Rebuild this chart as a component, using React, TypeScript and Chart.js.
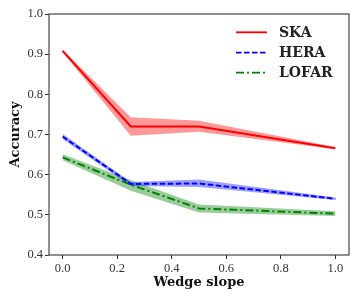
import React, { useEffect, useRef } from "react";
import { Chart, registerables } from "chart.js";

Chart.register(...registerables);

const xVals = [0, 0.25, 0.5, 1.0];
const xTicks = [0, 0.2, 0.4, 0.6, 0.8, 1.0];
const yTicks = [0.4, 0.5, 0.6, 0.7, 0.8, 0.9, 1.0];

const skaMean = [0.908, 0.72, 0.72, 0.666];
const skaLow = [0.905, 0.697, 0.707, 0.663];
const skaHigh = [0.911, 0.743, 0.734, 0.669];

const heraMean = [0.695, 0.577, 0.578, 0.54];
const heraLow = [0.689, 0.572, 0.569, 0.537];
const heraHigh = [0.701, 0.582, 0.588, 0.543];

const lofarMean = [0.643, 0.575, 0.516, 0.503];
const lofarLow = [0.636, 0.56, 0.506, 0.497];
const lofarHigh = [0.651, 0.586, 0.526, 0.509];

const seriesNames = ["SKA", "HERA", "LOFAR"];
const xTitle = "Wedge slope";
const yTitle = "Accuracy";

const pts = (arr: number[]) => arr.map((y, i) => ({ x: xVals[i], y }));

const lineColors = ["#ff0000", "#0000ff", "#008000"];
const bandColors = ["rgba(255,0,0,0.4)", "rgba(0,0,255,0.38)", "rgba(0,128,0,0.4)"];
const dashes = [[], [5.5, 2.5], [8, 3, 2, 3]];

const frameLegendPlugin = {
  id: "frameLegend",
  afterDraw(chart: any) {
    const { ctx, chartArea } = chart;
    const { left, top, right, bottom } = chartArea;
    ctx.save();
    ctx.strokeStyle = "#444";
    ctx.lineWidth = 1.2;
    ctx.strokeRect(left, top, right - left, bottom - top);
    // legend
    const rows = [top + 18.3, top + 38.7, top + 58.7];
    ctx.font = "bold 14px 'DejaVu Serif'";
    ctx.textBaseline = "middle";
    ctx.textAlign = "left";
    seriesNames.forEach((name, i) => {
      ctx.beginPath();
      ctx.strokeStyle = lineColors[i];
      ctx.lineWidth = 1.8;
      ctx.setLineDash(dashes[i]);
      ctx.moveTo(right - 113, rows[i]);
      ctx.lineTo(right - 82, rows[i]);
      ctx.stroke();
      ctx.setLineDash([]);
      ctx.fillStyle = "#222";
      ctx.fillText(name, right - 70, rows[i] + 1);
    });
    ctx.restore();
  },
};

export default function App() {
  const ref = useRef<HTMLCanvasElement>(null);
  useEffect(() => {
    const means = [skaMean, heraMean, lofarMean];
    const lows = [skaLow, heraLow, lofarLow];
    const highs = [skaHigh, heraHigh, lofarHigh];
    const datasets: any[] = [];
    means.forEach((m, i) => {
      datasets.push({
        label: seriesNames[i],
        data: pts(m),
        borderColor: lineColors[i],
        borderWidth: 2,
        borderDash: dashes[i],
        pointRadius: 0,
        fill: false,
        order: 0,
      });
    });
    means.forEach((_, i) => {
      datasets.push({
        label: seriesNames[i] + " high",
        data: pts(highs[i]),
        borderWidth: 0,
        borderColor: "transparent",
        pointRadius: 0,
        fill: false,
        order: 1,
      });
      datasets.push({
        label: seriesNames[i] + " low",
        data: pts(lows[i]),
        borderWidth: 0,
        borderColor: "transparent",
        backgroundColor: bandColors[i],
        pointRadius: 0,
        fill: "-1",
        order: 1,
      });
    });
    const tickFont = { family: "'Liberation Serif'", size: 12.5 };
    const titleFont = { family: "'DejaVu Serif'", size: 13, weight: "bold" as const };
    const chart = new Chart(ref.current!, {
      type: "line",
      data: { datasets },
      plugins: [frameLegendPlugin],
      options: {
        animation: false,
        responsive: false,
        layout: { padding: { left: 0, top: 14, right: 11, bottom: 0 } },
        plugins: { legend: { display: false }, tooltip: { enabled: false } },
        scales: {
          x: {
            type: "linear",
            min: -0.05,
            max: 1.05,
            afterBuildTicks: (s: any) => {
              s.ticks = xTicks.map((v) => ({ value: v }));
            },
            afterFit: (s: any) => {
              s.height = 45;
            },
            grid: { drawOnChartArea: false, tickLength: 4, color: "#333", tickColor: "#333" },
            border: { display: false },
            ticks: {
              font: tickFont,
              color: "#333",
              padding: 2,
              maxRotation: 0,
              callback: (v: any) => Number(v).toFixed(1),
            },
            title: { display: true, text: xTitle, font: titleFont, color: "#111", padding: { top: 0, bottom: 10 } },
          },
          y: {
            type: "linear",
            min: 0.4,
            max: 1.0,
            afterBuildTicks: (s: any) => {
              s.ticks = yTicks.map((v) => ({ value: v }));
            },
            afterFit: (s: any) => {
              s.width = 49;
            },
            grid: { drawOnChartArea: false, tickLength: 4, color: "#333", tickColor: "#333" },
            border: { display: false },
            ticks: {
              font: tickFont,
              color: "#333",
              padding: 2,
              callback: (v: any) => Number(v).toFixed(1),
            },
            title: { display: true, text: yTitle, font: titleFont, color: "#111", padding: { top: 8, bottom: 0 } },
          },
        },
      },
    });
    return () => chart.destroy();
  }, []);
  return (
    <div style={{ position: "absolute", left: 0, top: 0, width: 360, height: 300, background: "#fff" }}>
      <canvas ref={ref} width={360} height={300} />
    </div>
  );
}
